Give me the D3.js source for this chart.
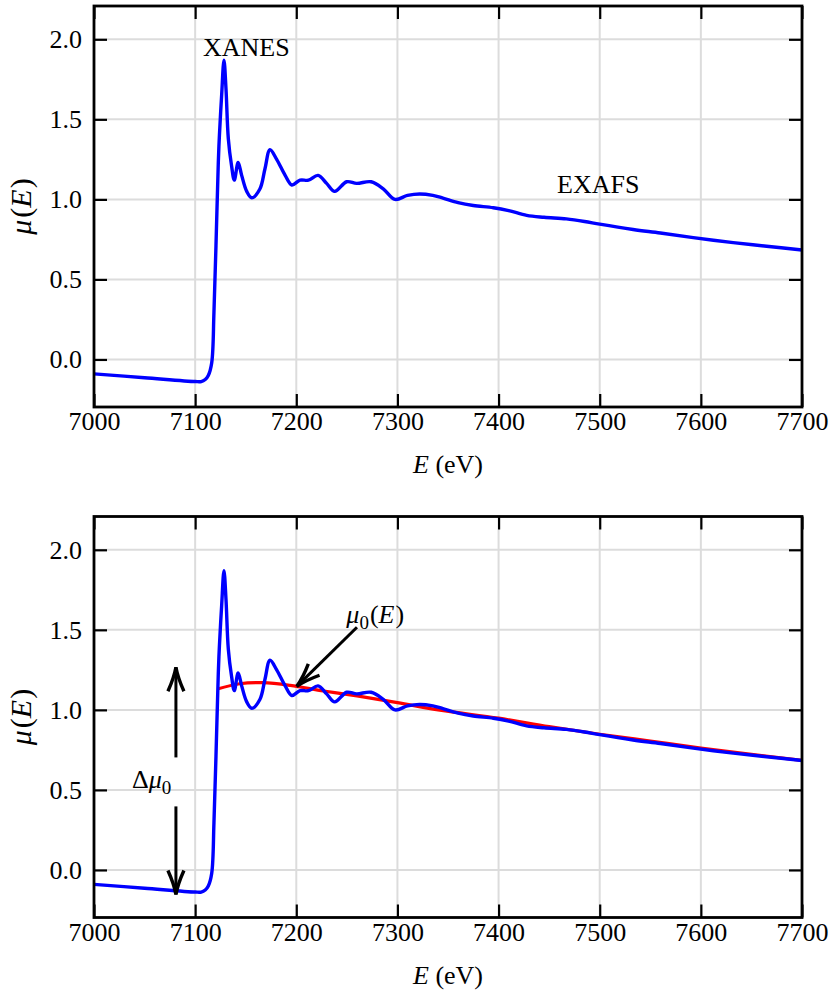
<!DOCTYPE html>
<html><head><meta charset="utf-8">
<script src="https://cdn.jsdelivr.net/npm/d3@7"></script>
<style>
body{margin:0;background:#fff;}
svg{display:block;}
svg text{font-family:"Liberation Serif","Times New Roman",Times,serif !important;fill:#000;}
</style></head>
<body>
<svg id="chart" width="833" height="994"></svg>
<script>
// ---- data ----
const energy = [7000, 7050, 7100, 7106, 7110, 7113, 7116.4, 7118.6, 7120.6, 7122.9, 7124, 7126.2, 7128.5, 7130.5, 7132.8, 7136, 7138.7, 7142.5, 7146, 7151, 7156, 7164, 7169, 7174, 7180.6, 7189, 7195.6, 7203.7, 7212, 7221.5, 7230, 7238, 7249.8, 7259.7, 7274, 7286, 7297.6, 7310, 7322, 7335, 7345, 7360, 7375, 7394.8, 7410, 7427.8, 7445, 7467, 7485, 7500, 7533, 7560, 7592.5, 7632, 7665, 7700];
const muE = [-0.09, -0.114, -0.138, -0.138, -0.125, -0.10, -0.02, 0.295, 0.71, 1.23, 1.40, 1.65, 1.87, 1.69, 1.38, 1.21, 1.12, 1.23, 1.15, 1.05, 1.01, 1.065, 1.19, 1.31, 1.25, 1.15, 1.09, 1.12, 1.12, 1.15, 1.10, 1.05, 1.11, 1.10, 1.11, 1.066, 1.0, 1.025, 1.034, 1.025, 1.008, 0.98, 0.962, 0.948, 0.93, 0.90, 0.888, 0.878, 0.862, 0.845, 0.812, 0.79, 0.761, 0.73, 0.707, 0.684];
const energy0 = [7122, 7144, 7167, 7194, 7227, 7260, 7300, 7342, 7400, 7450, 7500, 7550, 7600, 7650, 7700];
const mu0 = [1.13, 1.163, 1.17, 1.153, 1.118, 1.087, 1.045, 0.998, 0.948, 0.895, 0.848, 0.805, 0.762, 0.722, 0.684];
const xTicks = [7000, 7100, 7200, 7300, 7400, 7500, 7600, 7700];
const yTicks = [0.0, 0.5, 1.0, 1.5, 2.0];
const xDomain = [7000, 7700];
const yDomain = [-0.297, 2.208];

// ---- layout ----
const FONT = '"Liberation Serif","Times New Roman",Times,serif';
const svg = d3.select("#chart");
const L = 94, R = 802, PH = 401;
const panelTops = [6, 516.5];
const x = d3.scaleLinear().domain(xDomain).range([L, R]);
const tickLen = 13;
const fs = 26;

function arrowHead(g, tx, ty, fx, fy) {
  const dx = tx - fx, dy = ty - fy, len = Math.hypot(dx, dy);
  const ux = dx / len, uy = dy / len, nx = -uy, ny = ux;
  const Lh = 24, W = 8;
  const p = (a, b) => [tx - ux * a + nx * b, ty - uy * a + ny * b];
  const b1 = p(Lh, W), b2 = p(Lh, -W), c1 = p(Lh * 0.45, W * 0.25), c2 = p(Lh * 0.45, -W * 0.25);
  g.append("path")
    .attr("d", `M${b1[0]},${b1[1]} Q${c1[0]},${c1[1]} ${tx},${ty} Q${c2[0]},${c2[1]} ${b2[0]},${b2[1]}`)
    .attr("fill", "none").attr("stroke", "#000").attr("stroke-width", 3.4).attr("stroke-linejoin", "miter");
}
function arrow(g, x1, y1, x2, y2) {
  g.append("line").attr("x1", x1).attr("y1", y1).attr("x2", x2).attr("y2", y2)
    .attr("stroke", "#000").attr("stroke-width", 3);
  arrowHead(g, x2, y2, x1, y1);
}

panelTops.forEach((top, i) => {
  const y = d3.scaleLinear().domain(yDomain).range([top + PH, top]);
  const g = svg.append("g").style("font-family", FONT);
  // grid
  g.append("g").selectAll("line.gx").data(xTicks.slice(1, -1)).join("line")
    .attr("x1", d => x(d)).attr("x2", d => x(d)).attr("y1", top).attr("y2", top + PH)
    .attr("stroke", "#dcdcdc").attr("stroke-width", 2);
  g.append("g").selectAll("line.gy").data(yTicks).join("line")
    .attr("x1", L).attr("x2", R).attr("y1", d => y(d)).attr("y2", d => y(d))
    .attr("stroke", "#dcdcdc").attr("stroke-width", 2);

  // axes
  const styleAxis = sel => {
    sel.attr("font-family", null);
    sel.select(".domain").remove();
    sel.selectAll(".tick line").attr("stroke", "#000").attr("stroke-width", 2.2);
    sel.selectAll("text").attr("font-size", fs).style("font-family", FONT).attr("fill", "#000");
  };
  g.append("g").attr("transform", `translate(0,${top + PH})`)
    .call(d3.axisBottom(x).tickValues(xTicks).tickFormat(d3.format("d")).tickSize(-tickLen).tickPadding(5)).call(styleAxis);
  g.append("g").attr("transform", `translate(0,${top})`)
    .call(d3.axisTop(x).tickValues(xTicks).tickFormat("").tickSize(-tickLen)).call(styleAxis);
  g.append("g").attr("transform", `translate(${L},0)`)
    .call(d3.axisLeft(y).tickValues(yTicks).tickFormat(d3.format(".1f")).tickSize(-tickLen).tickPadding(12)).call(styleAxis);
  g.append("g").attr("transform", `translate(${R},0)`)
    .call(d3.axisRight(y).tickValues(yTicks).tickFormat("").tickSize(-tickLen)).call(styleAxis);

  // lines
  const line = d3.line().x(d => x(d[0])).y(d => y(d[1])).curve(d3.curveCatmullRom.alpha(0.5));
  if (i === 1) {
    g.append("path").datum(energy0.map((e, k) => [e, mu0[k]])).attr("d", line)
      .attr("fill", "none").attr("stroke", "#ff0000").attr("stroke-width", 3.2);
  }
  g.append("path").datum(energy.map((e, k) => [e, muE[k]])).attr("d", line)
    .attr("fill", "none").attr("stroke", "#0000ff").attr("stroke-width", 3.4).attr("stroke-linejoin", "round");

  // frame
  g.append("rect").attr("x", L).attr("y", top).attr("width", R - L).attr("height", PH)
    .attr("fill", "none").attr("stroke", "#000").attr("stroke-width", 2.8);

  // axis titles
  const xt = g.append("text").attr("x", (L + R) / 2).attr("y", top + PH + 66).attr("text-anchor", "middle").attr("font-size", fs);
  xt.append("tspan").attr("font-style", "italic").text("E");
  xt.append("tspan").text(" (eV)");
  const yt = g.append("text").attr("transform", `translate(31,${top + PH / 2}) rotate(-90)`).attr("text-anchor", "middle").attr("font-size", 30);
  yt.append("tspan").attr("font-style", "italic").text("μ");
  yt.append("tspan").attr("dx", 2).text("(");
  yt.append("tspan").attr("font-style", "italic").text("E");
  yt.append("tspan").attr("dx", 1).text(")");

  if (i === 0) {
    g.append("text").attr("x", x(7107.8)).attr("y", y(1.897)).attr("font-size", fs).text("XANES");
    g.append("text").attr("x", x(7457.8)).attr("y", y(1.04)).attr("font-size", fs).text("EXAFS");
  } else {
    const t = g.append("text").attr("x", x(7249.5)).attr("y", y(1.545)).attr("font-size", fs);
    t.append("tspan").attr("font-style", "italic").text("μ");
    t.append("tspan").attr("font-size", 19).attr("dy", 6).text("0");
    t.append("tspan").attr("dy", -6).attr("dx", 1).text("(");
    t.append("tspan").attr("font-style", "italic").text("E");
    t.append("tspan").attr("dx", 1).text(")");
    arrow(g, x(7260), y(1.516), x(7200.5), y(1.147));
    const d = g.append("text").attr("x", x(7037.5)).attr("y", y(0.515)).attr("font-size", fs);
    d.append("tspan").text("Δ");
    d.append("tspan").attr("font-style", "italic").text("μ");
    d.append("tspan").attr("font-size", 19).attr("dy", 6).text("0");
    arrow(g, x(7081), y(0.703), x(7081), y(1.266));
    arrow(g, x(7081), y(0.397), x(7081), y(-0.153));
  }
});
</script>
</body></html>
